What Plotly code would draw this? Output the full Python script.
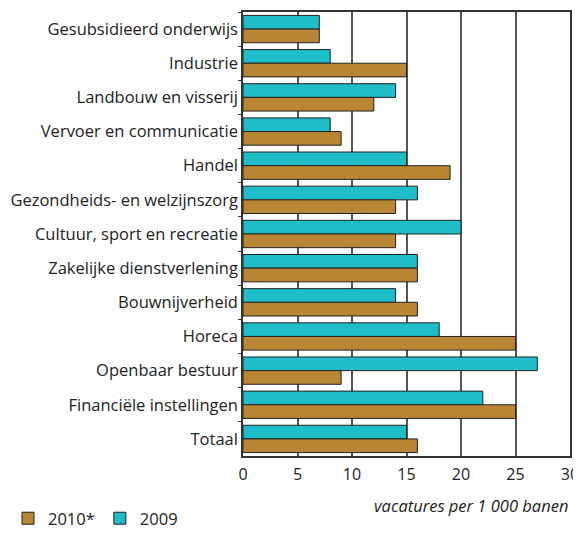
import plotly.graph_objects as go

categories = [
    "Gesubsidieerd onderwijs", "Industrie", "Landbouw en visserij",
    "Vervoer en communicatie", "Handel", "Gezondheids- en welzijnszorg",
    "Cultuur, sport en recreatie", "Zakelijke dienstverlening",
    "Bouwnijverheid", "Horeca", "Openbaar bestuur",
    "Financiële instellingen", "Totaal",
]
values_2009 = [7, 8, 14, 8, 15, 16, 20, 16, 14, 18, 27, 22, 15]
values_2010 = [7, 15, 12, 9, 19, 14, 14, 16, 16, 25, 9, 25, 16]
x_ticks = [0, 5, 10, 15, 20, 25, 30]

FONT = "Open Sans"
FS = 16.5
fig = go.Figure()
fig.add_trace(go.Bar(
    y=categories, x=values_2009, name="2009", orientation="h",
    marker=dict(color="#1FBDC8", line=dict(color="#222222", width=1)),
    legendrank=2,
))
fig.add_trace(go.Bar(
    y=categories, x=values_2010, name="2010*", orientation="h",
    marker=dict(color="#B88634", line=dict(color="#222222", width=1)),
    legendrank=1,
))

# page body has an 8px margin, so the figure is sized to fit the window
fig.update_layout(
    width=573, height=528,
    margin=dict(l=235, r=11, t=4, b=80),
    barmode="group", bargap=0.2, bargroupgap=0,
    plot_bgcolor="white", paper_bgcolor="white",
    font=dict(family=FONT, size=FS, color="#222222"),
    showlegend=True,
    legend=dict(orientation="h", xref="paper", yref="container",
                x=-0.76, xanchor="left", y=-0.01, yanchor="bottom",
                font=dict(size=FS), itemwidth=30, traceorder="normal",
                bgcolor="rgba(0,0,0,0)"),
    xaxis=dict(
        range=[0, 30], tickvals=x_ticks, showgrid=True, gridcolor="#555555",
        gridwidth=1.5, showline=True, linecolor="#333333", linewidth=1.5,
        mirror=True, ticks="", ticklabelstandoff=3,
        zeroline=False, tickfont=dict(size=16), automargin=False,
    ),
    yaxis=dict(
        autorange="reversed", showline=True, linecolor="#333333", linewidth=1.5,
        mirror=True, ticks="outside", ticklen=3, tickcolor="#333333",
        tickson="boundaries", tickfont=dict(size=FS), showgrid=False,
        automargin=False,
    ),
    annotations=[dict(
        text="<i>vacatures per 1 000 banen</i>", xref="paper", yref="paper",
        x=1.0, y=-0.081, xanchor="right", yanchor="top", showarrow=False,
        font=dict(size=FS, color="#222222"),
    )],
)

fig.write_html("out.html")
